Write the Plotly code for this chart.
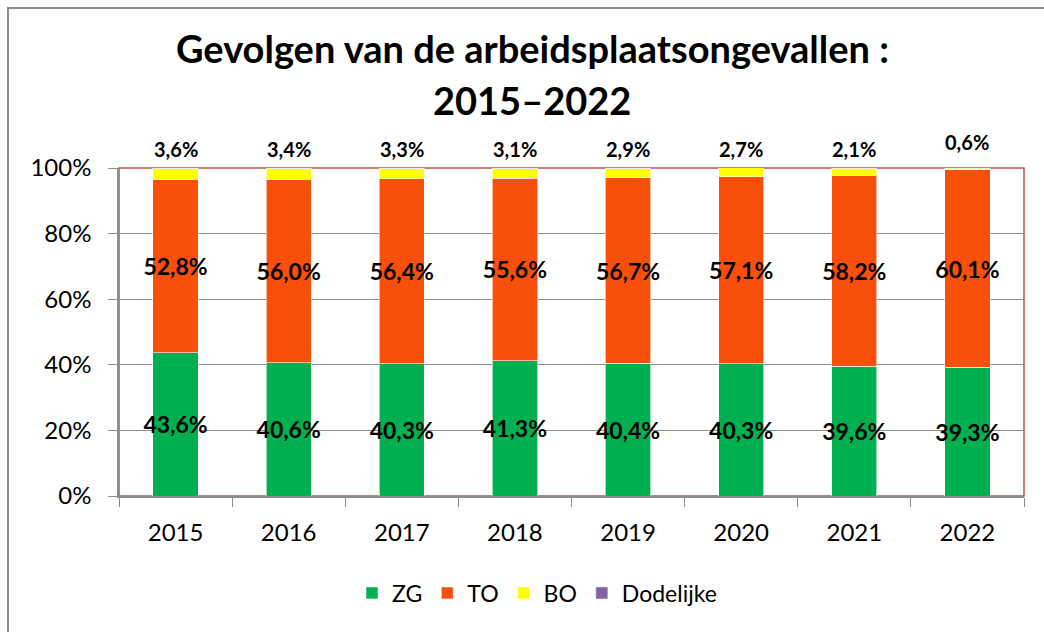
import plotly.graph_objects as go

years = ["2015", "2016", "2017", "2018", "2019", "2020", "2021", "2022"]
zg = [43.6, 40.6, 40.3, 41.3, 40.4, 40.3, 39.6, 39.3]
to = [52.8, 56.0, 56.4, 55.6, 56.7, 57.1, 58.2, 60.1]
bo = [3.6, 3.4, 3.3, 3.1, 2.9, 2.7, 2.1, 0.6]
dodelijke = [0.0, 0.0, 0.0, 0.0, 0.0, 0.0, 0.1, 0.0]
bo_label_shift = [5, 5, 5, 5, 5, 5, 5, 12]

FONT = "Lato"

def fmt(v):
    return f"{v:.1f}".replace(".", ",") + "%"

# plot area in pixels
L, R, T, B = 119, 1024, 168, 496
W, H = R - L, B - T
def px(x):
    return (x - L) / W
def py(y):
    return (B - y) / H

edge = dict(color="rgba(255,255,255,0.6)", width=1)
lab = dict(family=FONT, size=23, color="black", weight="bold")
fig = go.Figure()
fig.add_trace(go.Bar(x=years, y=zg, name="ZG", marker=dict(color="#00B050", line=edge),
                     text=[fmt(v) for v in zg], textposition="inside", insidetextanchor="middle",
                     textangle=0, textfont=lab, constraintext="none"))
fig.add_trace(go.Bar(x=years, y=to, name="TO", marker=dict(color="#F84F0A", line=edge),
                     text=[fmt(v) for v in to], textposition="inside", insidetextanchor="middle",
                     textangle=0, textfont=lab, constraintext="none"))
fig.add_trace(go.Bar(x=years, y=bo, name="BO", marker=dict(color="#FFFF00", line=edge)))
fig.add_trace(go.Bar(x=years, y=dodelijke, name="Dodelijke", marker=dict(color="#8064A2")))

for i, (v, s) in enumerate(zip(bo, bo_label_shift)):
    fig.add_annotation(x=i, y=100, xref="x", yref="y", text=fmt(v), showarrow=False,
                       yanchor="bottom", yshift=s, font=dict(family=FONT, size=20, color="black", weight="bold"))

fig.add_annotation(x=px(532), y=py(48), xref="paper", yref="paper", text="Gevolgen van de arbeidsplaatsongevallen :",
                   showarrow=False, font=dict(family=FONT, size=38, color="black", weight="bold"), yanchor="middle")
fig.add_annotation(x=px(532), y=py(100), xref="paper", yref="paper", text="2015\u20132022",
                   showarrow=False, font=dict(family=FONT, size=38, color="black", weight="bold"), yanchor="middle")

fig.add_shape(type="rect", xref="paper", yref="paper", x0=0, x1=1, y0=0, y1=1,
              line=dict(color="#C0504D", width=1.5), layer="below")
fig.add_shape(type="rect", xref="paper", yref="paper", x0=px(8), x1=px(1060),
              y0=py(650), y1=py(8), line=dict(color="#8C8C8C", width=2), layer="below")

fig.update_layout(
    barmode="stack",
    bargap=0.6,
    width=1044, height=632,
    margin=dict(l=L, r=1044 - R, t=T, b=632 - B),
    paper_bgcolor="white", plot_bgcolor="white",
    font=dict(family=FONT, size=24, color="black"),
    legend=dict(orientation="h", x=px(537), xanchor="center", y=py(593), yanchor="middle",
                font=dict(family=FONT, size=23), traceorder="normal"),
)
fig.update_xaxes(type="category", range=[-0.5, 7.5], showline=True, linecolor="#8C8C8C", linewidth=1.5, ticks="outside",
                 tickson="boundaries", ticklen=9, tickcolor="#8C8C8C", tickfont=dict(family=FONT, size=24),
                 showgrid=False, tickangle=0, ticklabelstandoff=14)
fig.update_yaxes(range=[0, 100], tickvals=[0, 20, 40, 60, 80, 100], ticktext=["0%", "20%", "40%", "60%", "80%", "100%"],
                 showline=True, linecolor="#8C8C8C", linewidth=1.5, ticks="outside", ticklen=9, tickcolor="#8C8C8C",
                 showgrid=True, gridcolor="#8C8C8C", gridwidth=1, tickfont=dict(family=FONT, size=24), zeroline=False,
                 ticklabelstandoff=12)

fig.write_html("out.html", config={"displayModeBar": False}, post_script="document.body.style.margin='0';")
